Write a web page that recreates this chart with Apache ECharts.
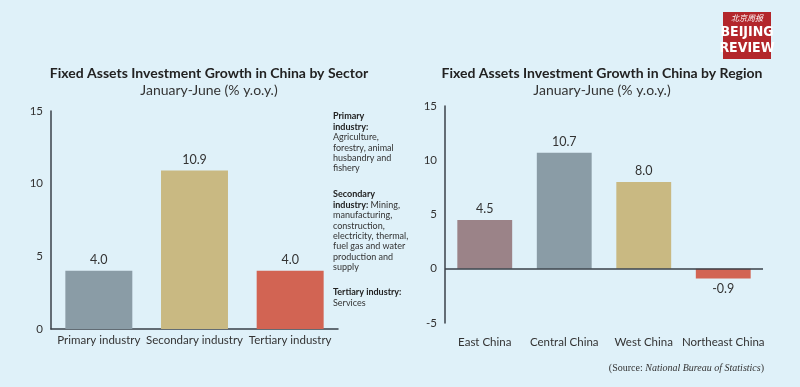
<!DOCTYPE html>
<html><head><meta charset="utf-8">
<script src="https://cdn.jsdelivr.net/npm/echarts@6/dist/echarts.min.js"></script>
<style>html,body{margin:0;padding:0;background:#dff1f9}#c{width:800px;height:387px}</style>
</head><body><div id="c"></div>
<script>
var sectorCats = ['Primary industry', 'Secondary industry', 'Tertiary industry'];
var sectorVals = [4.0, 10.9, 4.0];
var regionCats = ['East China', 'Central China', 'West China', 'Northeast China'];
var regionVals = [4.5, 10.7, 8.0, -0.9];
var sectorColors = ['#8a9ca6', '#c9b982', '#d26453'];
var regionColors = ['#9b8388', '#8a9ca6', '#c9b982', '#d26453'];

var F = 'Lato, Open Sans, sans-serif';
var chart = echarts.init(document.getElementById('c'));
var tickLbl = {color: '#333', fontSize: 11.5, fontFamily: F};
var noteRich = {b: {fontSize: 9, fontWeight: 'bold', fontFamily: F, fill: '#222', lineHeight: 10.4},
                n: {fontSize: 9, fontFamily: F, fill: '#333', lineHeight: 10.4}};

chart.setOption({
  backgroundColor: '#dff1f9',
  animation: false,
  title: [
    {text: 'Fixed Assets Investment Growth in China by Sector', subtext: 'January-June (% y.o.y.)',
     left: 204, top: 61, textAlign: 'center', itemGap: 3,
     textStyle: {fontSize: 14, fontWeight: 'bold', color: '#222', fontFamily: F},
     subtextStyle: {fontSize: 14, color: '#333', fontFamily: F}},
    {text: 'Fixed Assets Investment Growth in China by Region', subtext: 'January-June (% y.o.y.)',
     left: 597, top: 61, textAlign: 'center', itemGap: 3,
     textStyle: {fontSize: 14, fontWeight: 'bold', color: '#222', fontFamily: F},
     subtextStyle: {fontSize: 14, color: '#333', fontFamily: F}}
  ],
  grid: [
    {left: 51, right: 462, top: 111, bottom: 58},
    {left: 445, right: 37, top: 106, bottom: 64}
  ],
  xAxis: [
    {type: 'category', gridIndex: 0, data: sectorCats,
     axisLine: {lineStyle: {color: '#3a4048', width: 1.5}}, axisTick: {show: false},
     axisLabel: Object.assign({margin: 5, interval: 0}, tickLbl)},
    {type: 'category', gridIndex: 1, data: regionCats,
     axisLine: {show: false, onZero: false}, axisTick: {show: false},
     axisLabel: Object.assign({margin: 13, interval: 0}, tickLbl)}
  ],
  yAxis: [
    {type: 'value', gridIndex: 0, min: 0, max: 15, interval: 5,
     axisLine: {show: true, lineStyle: {color: '#3a4048', width: 1.5}}, axisTick: {show: false},
     splitLine: {show: false}, axisLabel: Object.assign({margin: 8}, tickLbl)},
    {type: 'value', gridIndex: 1, min: -5, max: 15, interval: 5,
     axisLine: {show: true, onZero: false, lineStyle: {color: '#3a4048', width: 1.5}}, axisTick: {show: false},
     splitLine: {show: false}, axisLabel: Object.assign({margin: 8}, tickLbl)}
  ],
  series: [
    {type: 'bar', xAxisIndex: 0, yAxisIndex: 0, barWidth: '70%',
     data: sectorVals.map(function (v, i) { return {value: v, itemStyle: {color: sectorColors[i]}}; }),
     label: {show: true, position: 'top', distance: 4, color: '#333', fontSize: 12.5, fontFamily: F,
             formatter: function (p) { return p.value.toFixed(1); }}},
    {type: 'bar', xAxisIndex: 1, yAxisIndex: 1, barWidth: '69%',
     data: regionVals.map(function (v, i) {
       return {value: v, itemStyle: {color: regionColors[i]},
               label: {position: v < 0 ? 'bottom' : 'top'}};
     }),
     label: {show: true, distance: 4, color: '#333', fontSize: 12.5, fontFamily: F,
             formatter: function (p) { return p.value.toFixed(1); }},
     markLine: {silent: true, symbol: 'none', label: {show: false},
                lineStyle: {color: '#3a4048', width: 1.5, type: 'solid'},
                data: [{yAxis: 0}]}}
  ],
  graphic: [
    {type: 'text', left: 333, top: 112, style: {
      text: '{b|Primary}\n{b|industry:}\n{n|Agriculture,}\n{n|forestry, animal}\n{n|husbandry and}\n{n|fishery}',
      rich: noteRich}},
    {type: 'text', left: 333, top: 190, style: {
      text: '{b|Secondary}\n{b|industry:}{n| Mining,}\n{n|manufacturing,}\n{n|construction,}\n{n|electricity, thermal,}\n{n|fuel gas and water}\n{n|production and}\n{n|supply}',
      rich: noteRich}},
    {type: 'text', left: 333, top: 288, style: {
      text: '{b|Tertiary industry:}\n{n|Services}',
      rich: noteRich}},
    {type: 'rect', shape: {x: 723, y: 12, width: 48, height: 47}, style: {fill: '#b3262b'}},
    {type: 'text', x: 747, y: 14, style: {text: '北京周报', fill: '#fff', fontSize: 8, fontStyle: 'italic',
      fontFamily: 'Noto Sans CJK SC', textAlign: 'center', textVerticalAlign: 'top'}},
    {type: 'text', x: 747, y: 24, style: {
      text: 'BEIJING\nREVIEW', fill: '#fff', fontSize: 14, fontWeight: 'bold', lineHeight: 16,
      fontFamily: 'Liberation Sans Narrow, DejaVu Sans Condensed, sans-serif', textAlign: 'center', textVerticalAlign: 'top'}},
    {type: 'text', right: 36, top: 363, style: {
      text: '{n|(Source: }{i|National Bureau of Statistics}{n|)}',
      rich: {n: {fontSize: 10, fontFamily: 'Liberation Serif, serif', fill: '#333'},
             i: {fontSize: 10, fontStyle: 'italic', fontFamily: 'Liberation Serif, serif', fill: '#333'}}}}
  ]
});
</script></body></html>
